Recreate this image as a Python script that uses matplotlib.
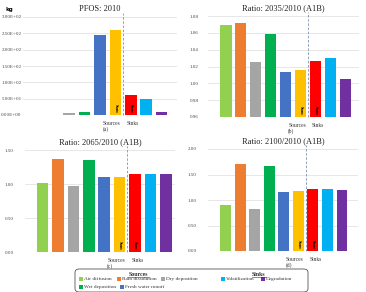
import matplotlib
matplotlib.use("Agg")
import matplotlib.pyplot as plt
from matplotlib.patches import Rectangle, FancyBboxPatch
from matplotlib.transforms import blended_transform_factory

plt.rcParams['font.family'] = ['Liberation Serif', 'DejaVu Serif']

W, H = 366, 292

categories = ["Air diffusion", "Rain dissolution", "Dry deposition", "Wet deposition",
              "Fresh water runoff", "Sum sources", "Sum sinks", "Volatilization", "Degradation"]
colors = ["#92D050", "#ED7D31", "#A5A5A5", "#00B050", "#4472C4",
          "#FFC000", "#FF0000", "#00B0F0", "#7030A0"]

pfos_2010 = [0.5, 1.0, 7.0, 9.0, 244.0, 261.0, 60.0, 50.0, 10.0]
ratio_2035 = [1.069, 1.072, 1.025, 1.059, 1.014, 1.016, 1.026, 1.030, 1.005]
ratio_2065 = [1.02, 1.37, 0.97, 1.35, 1.11, 1.11, 1.14, 1.14, 1.14]
ratio_2100 = [0.91, 1.71, 0.82, 1.66, 1.16, 1.17, 1.22, 1.22, 1.20]


def fx(px):
    return px / W


def fy(py):
    return 1 - py / H


def panel(box, values, title, letter, yticks, ylim, xlim, fmt, pad):
    x0, y0, x1, y1 = box
    ax = fig.add_axes([fx(x0), fy(y1), fx(x1) - fx(x0), fy(y0) - fy(y1)])
    xs = range(len(values))
    ax.bar(xs, values, width=0.75, color=colors, zorder=2)
    ax.set_xlim(*xlim)
    ax.set_ylim(*ylim)
    ax.set_yticks(yticks)
    ax.set_yticklabels([fmt.format(t) for t in yticks], fontsize=3.6, color="#444444")
    ax.set_xticks([])
    ax.tick_params(axis='y', length=0, pad=pad)
    for s in ax.spines.values():
        s.set_visible(False)
    ax.grid(axis='y', color="#DDDDDD", linewidth=0.5, zorder=0)
    ax.set_title(title, fontsize=6, pad=4, color="#222222")
    ax.axvline(5.5, ymin=0, ymax=1.04, color="#8090B0", linestyle=(0, (3, 2)),
               linewidth=0.6, clip_on=False, zorder=3)
    tr = blended_transform_factory(ax.transData, ax.transAxes)
    for i in (5, 6):
        ax.text(i, 0.02, "Sum", transform=tr, rotation=270, fontsize=3.2,
                fontweight='bold', ha='center', va='bottom', zorder=4)
    ax.text(5.35, -0.06, "Sources\n" + letter, transform=tr, fontsize=4,
            ha='right', va='top', multialignment='left', linespacing=1.1, color="#333333")
    ax.text(5.75, -0.06, "Sinks", transform=tr, fontsize=4,
            ha='left', va='top', color="#333333")
    return ax


fig = plt.figure(figsize=(W / 100, H / 100), dpi=100)

panel((23, 17, 177, 115), pfos_2010, "PFOS: 2010", "(a)",
      [0, 50, 100, 150, 200, 250, 300], (0, 300), (-1.0, 9.0), "{:.2E}", 1)
fig.text(fx(9), fy(10), "kg", fontsize=4, fontweight='bold', ha='center', va='center',
         family='DejaVu Sans')
panel((208, 16, 359, 117), ratio_2035, "Ratio: 2035/2010 (A1B)", "(b)",
      [0.96, 0.98, 1.00, 1.02, 1.04, 1.06, 1.08], (0.96, 1.08), (-1.2, 8.9), "{:.2f}", 7)
panel((25, 150, 175, 252), ratio_2065, "Ratio: 2065/2010 (A1B)", "(c)",
      [0, 0.5, 1.0, 1.5], (0, 1.5), (-1.15, 8.6), "{:.2f}", 8)
panel((208, 149, 358, 251), ratio_2100, "Ratio: 2100/2010 (A1B)", "(d)",
      [0, 0.5, 1.0, 1.5, 2.0], (0, 2.0), (-1.2, 9.1), "{:.2f}", 8)

# legend box
fig.patches.append(FancyBboxPatch((fx(75), fy(292)), fx(308) - fx(75), fy(269) - fy(292),
                                  boxstyle="round,pad=0,rounding_size=0.012",
                                  transform=fig.transFigure, facecolor='white',
                                  edgecolor="#555555", linewidth=0.6))
fig.text(fx(138), fy(274), "Sources", fontsize=4.2, fontweight='bold', ha='center',
         va='center', color="#333333")
fig.text(fx(259), fy(274), "Sinks", fontsize=4.2, fontweight='bold', ha='center',
         va='center', color="#333333")
fig.lines.append(plt.Line2D([fx(127), fx(149)], [fy(277), fy(277)], transform=fig.transFigure,
                            color="#333333", linewidth=0.4))
fig.lines.append(plt.Line2D([fx(252), fx(266)], [fy(277), fy(277)], transform=fig.transFigure,
                            color="#333333", linewidth=0.4))

legend_pos = [(81, 279), (119, 279), (163, 279), (81, 287), (122, 287), None, None,
              (223, 279), (263, 279)]
for name, col, pos in zip(categories, colors, legend_pos):
    if pos is None:
        continue
    px, py = pos
    fig.patches.append(Rectangle((fx(px - 2), fy(py + 2)), fx(4), 4 / H,
                                 transform=fig.transFigure, facecolor=col, edgecolor='none'))
    fig.text(fx(px + 3), fy(py), name, fontsize=3.8, ha='left', va='center', color="#333333")

fig.savefig("out.png", dpi=100)
